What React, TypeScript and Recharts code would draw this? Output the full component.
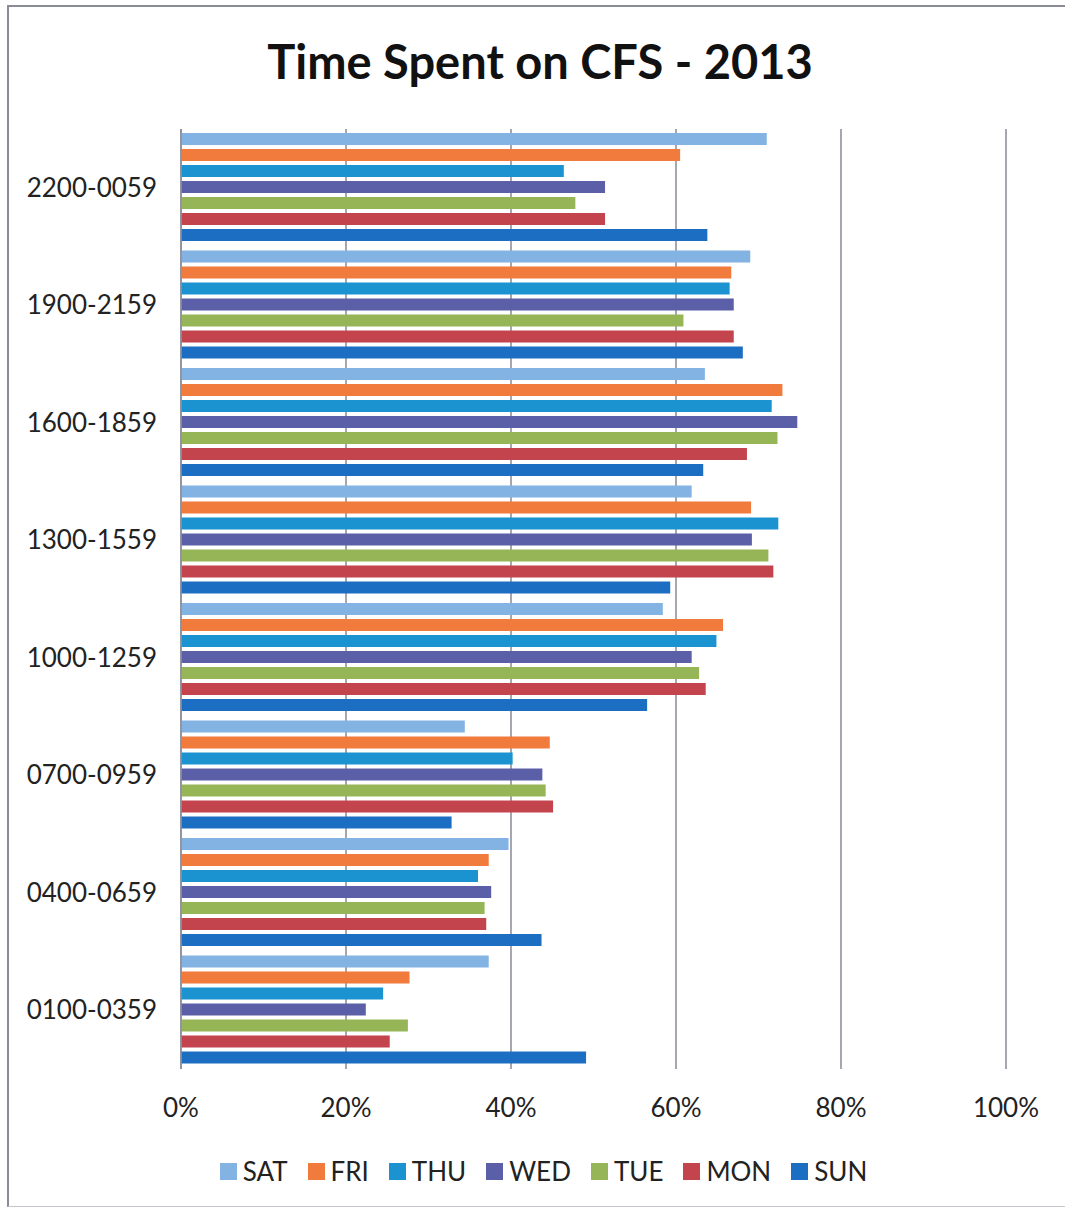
import React from "react";
import { BarChart, Bar, XAxis, YAxis, CartesianGrid, Legend } from "recharts";

// Time blocks, listed top to bottom
const timeBlocks = [
  "2200-0059",
  "1900-2159",
  "1600-1859",
  "1300-1559",
  "1000-1259",
  "0700-0959",
  "0400-0659",
  "0100-0359",
];

// Percent of time spent on calls for service, per day
const sat = [71.0, 69.0, 63.5, 61.9, 58.4, 34.4, 39.7, 37.3];
const fri = [60.5, 66.7, 72.9, 69.1, 65.7, 44.7, 37.3, 27.7];
const thu = [46.4, 66.5, 71.6, 72.4, 64.9, 40.2, 36.0, 24.5];
const wed = [51.4, 67.0, 74.7, 69.2, 61.9, 43.8, 37.6, 22.4];
const tue = [47.8, 60.9, 72.3, 71.2, 62.8, 44.2, 36.8, 27.5];
const mon = [51.4, 67.0, 68.6, 71.8, 63.6, 45.1, 37.0, 25.3];
const sun = [63.8, 68.1, 63.3, 59.3, 56.5, 32.8, 43.7, 49.1];

const xTicks = [0, 20, 40, 60, 80, 100];

const series = [
  { key: "SAT", values: sat, color: "#82b3e3" },
  { key: "FRI", values: fri, color: "#f07b3c" },
  { key: "THU", values: thu, color: "#1b93d1" },
  { key: "WED", values: wed, color: "#5a5fa8" },
  { key: "TUE", values: tue, color: "#96b556" },
  { key: "MON", values: mon, color: "#c4444e" },
  { key: "SUN", values: sun, color: "#1c6ec2" },
];
const seriesOrder = series.map((s) => s.key);

const data = timeBlocks.map((block, i) => {
  const row: Record<string, string | number> = { block };
  series.forEach((s) => {
    row[s.key] = s.values[i];
  });
  return row;
});

const FONT = "Lato, 'Open Sans', sans-serif";

const renderLegend = (props: any) => {
  const payload = [...(props.payload || [])].sort(
    (a: any, b: any) => seriesOrder.indexOf(a.value) - seriesOrder.indexOf(b.value)
  );
  return (
    <div
      style={{
        display: "flex",
        justifyContent: "center",
        alignItems: "center",
        fontFamily: FONT,
        fontSize: 26,
        color: "#222222",
        paddingLeft: 22,
      }}
    >
      {payload.map((entry: any, idx: number) => (
        <div
          key={entry.value}
          style={{
            display: "flex",
            alignItems: "center",
            marginRight: idx === payload.length - 1 ? 0 : 20,
          }}
        >
          <span
            style={{
              display: "inline-block",
              width: 17,
              height: 17,
              background: entry.color,
              marginRight: 6,
            }}
          />
          <span>{entry.value}</span>
        </div>
      ))}
    </div>
  );
};

export default function App() {
  return (
    <div
      style={{
        position: "absolute",
        left: 0,
        top: 0,
        width: 1065,
        height: 1211,
        background: "#ffffff",
        overflow: "hidden",
      }}
    >
      <div
        style={{
          position: "absolute",
          left: 7,
          top: 5,
          width: 1058,
          height: 1202,
          borderLeft: "2px solid #8a8d95",
          borderTop: "2px solid #8a8d95",
          borderBottom: "1px solid #c4c6cc",
          boxSizing: "border-box",
        }}
      />
      <div
        style={{
          position: "absolute",
          left: 0,
          top: 33,
          width: 1080,
          textAlign: "center",
          fontFamily: FONT,
          fontWeight: 700,
          fontSize: 47,
          lineHeight: "56px",
          color: "#111111",
        }}
      >
        Time Spent on CFS - 2013
      </div>
      <div style={{ position: "absolute", left: 0, top: 0 }}>
        <BarChart
          width={1065}
          height={1211}
          data={data}
          layout="vertical"
          margin={{ top: 129, right: 59, bottom: 82, left: 0 }}
          barCategoryGap={4}
          barGap={4}
        >
          <CartesianGrid
            horizontal={false}
            vertical={true}
            stroke="#8e929c"
            strokeWidth={1.6}
          />
          <XAxis
            type="number"
            domain={[0, 100]}
            ticks={xTicks}
            tickFormatter={(v: number) => `${v}%`}
            axisLine={false}
            tickLine={false}
            tickMargin={24}
            height={60}
            tick={{ fill: "#222222", fontSize: 26, fontFamily: FONT }}
          />
          <YAxis
            type="category"
            dataKey="block"
            width={181}
            axisLine={{ stroke: "#8e929c", strokeWidth: 1.6 }}
            tickLine={false}
            tickMargin={18}
            tick={{ fill: "#222222", fontSize: 26, fontFamily: FONT }}
          />
          <Legend
            layout="horizontal"
            verticalAlign="middle"
            align="center"
            content={renderLegend}
            wrapperStyle={{ top: 1155, left: 0, width: 1065 }}
          />
          {series.map((s) => (
            <Bar
              key={s.key}
              dataKey={s.key}
              name={s.key}
              fill={s.color}
              isAnimationActive={false}
            />
          ))}
        </BarChart>
      </div>
    </div>
  );
}
